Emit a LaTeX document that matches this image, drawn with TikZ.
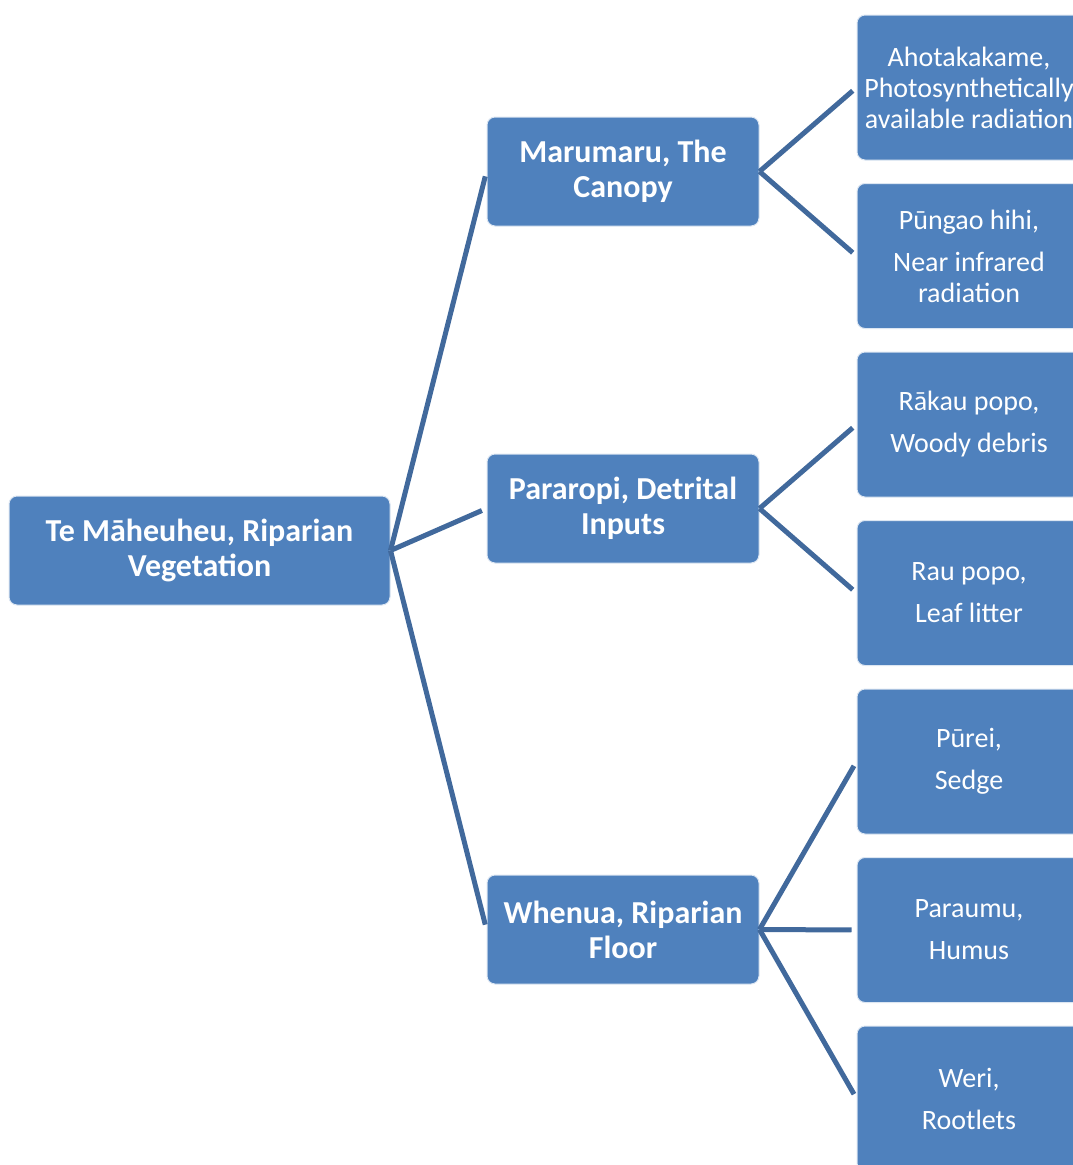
\documentclass[tikz,border=0pt]{standalone}
\usepackage{fontspec}
\setmainfont{Carlito}
\usepackage{xcolor}
\usepackage{tikz}
\usetikzlibrary{positioning}

\definecolor{boxblue}{HTML}{4F81BD}
\definecolor{lineblue}{HTML}{41699C}

\begin{document}
\begin{tikzpicture}[
    x=1pt, y=-1pt,
    box/.style={rectangle, rounded corners=8pt, draw=white!80!boxblue, line width=1pt, fill=boxblue, text=white, align=center, inner sep=0pt},
    rootbox/.style={box, minimum width=381pt, minimum height=109pt, font=\bfseries\fontsize{32}{35}\selectfont},
    topic/.style={box, minimum width=272pt, minimum height=109pt, font=\bfseries\fontsize{32}{35}\selectfont},
    leaf/.style={box, minimum width=224pt, minimum height=145pt, font=\fontsize{28}{31}\selectfont},
    link/.style={draw=lineblue, line width=5pt, shorten >=5pt}
]
    \useasboundingbox (0,0) rectangle (1073,1165);
    \clip (0,0) rectangle (1073,1165);

    % Root
    \node[rootbox] (Riparian) at (199.5,550.5) {Te Māheuheu, Riparian\\Vegetation};

    % Topics
    \node[topic] (Canopy) at (623,171.5) {Marumaru, The\\Canopy};
    \node[topic] (Detrital) at (623,508.5) {Pararopi, Detrital\\Inputs};
    \node[topic] (Floor) at (623,929.5) {Whenua, Riparian\\Floor};

    % Leaves
    \node[leaf] (Par) at (969,87.5) {Ahotakakame,\\Photosynthetically\\available radiation};
    \node[leaf] (Nir)    [below=22.5pt of Par] {Pūngao hihi,\\[11pt]Near infrared\\radiation};
    \node[leaf] (Woody)  [below=22.5pt of Nir] {Rākau popo,\\[11pt]Woody debris};
    \node[leaf] (Litter) [below=22.5pt of Woody] {Rau popo,\\[11pt]Leaf litter};
    \node[leaf] (Sedge)  [below=22.5pt of Litter] {Pūrei,\\[11pt]Sedge};
    \node[leaf] (Humus)  [below=22.5pt of Sedge] {Paraumu,\\[11pt]Humus};
    \node[leaf] (Roots)  [below=22.5pt of Humus] {Weri,\\[11pt]Rootlets};

    % Connectors
    \draw[link] (Riparian.east) -- (Canopy.west);
    \draw[link] (Riparian.east) -- (Detrital.west);
    \draw[link] (Riparian.east) -- (Floor.west);

    \draw[link] (Canopy.east) -- (Par.west);
    \draw[link] (Canopy.east) -- (Nir.west);
    \draw[link] (Detrital.east) -- (Woody.west);
    \draw[link] (Detrital.east) -- (Litter.west);
    \draw[link] (Floor.east) -- (Sedge.west);
    \draw[link] (Floor.east) -- (Humus.west);
    \draw[link] (Floor.east) -- (Roots.west);

\end{tikzpicture}
\end{document}
